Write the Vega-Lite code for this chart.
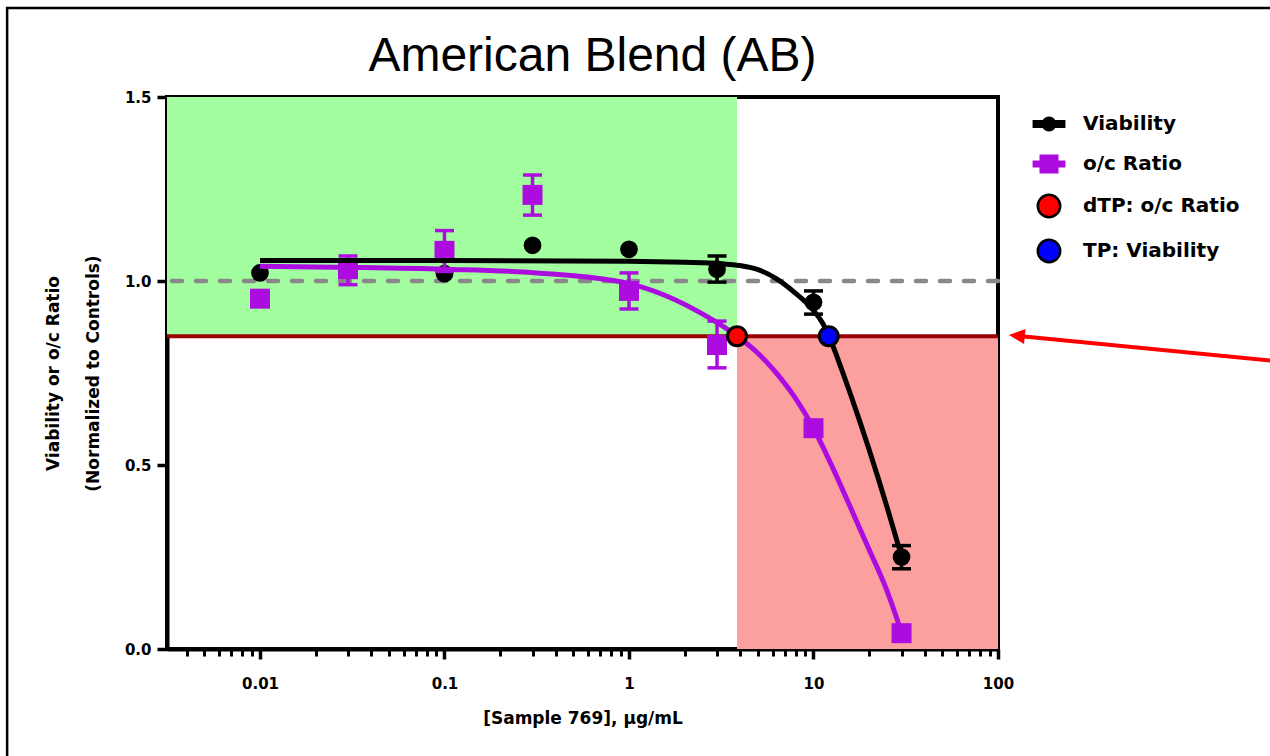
{
  "$schema": "https://vega.github.io/schema/vega-lite/v6.json",
  "width": 831,
  "height": 552,
  "autosize": {"type": "none"},
  "padding": {"left": 167, "top": 97, "right": 272, "bottom": 107},
  "background": "white",
  "title": {
    "text": "American Blend (AB)",
    "font": "Liberation Sans",
    "fontSize": 48,
    "fontWeight": "normal",
    "color": "#000000",
    "anchor": "middle",
    "frame": "group",
    "baseline": "bottom",
    "offset": -122,
    "dx": 10
  },
  "config": {
    "view": {"stroke": "#000000", "strokeWidth": 4},
    "axis": {
      "domainColor": "#000000",
      "domainWidth": 4,
      "tickColor": "#000000",
      "labelFont": "DejaVu Sans",
      "labelFontWeight": "bold",
      "labelColor": "#000000",
      "titleFont": "DejaVu Sans",
      "titleFontWeight": "bold",
      "titleColor": "#000000",
      "grid": false
    }
  },
  "datasets": {
    "regions": [
      {"x1": 0.003133, "x2": 3.85, "y1": 0.85, "y2": 1.5, "zone": "safe"},
      {"x1": 3.85, "x2": 100, "y1": 0, "y2": 0.85, "zone": "toxic"}
    ],
    "vcurve": [
      {"c": 0.01, "v": 1.056}, {"c": 0.1, "v": 1.056}, {"c": 1, "v": 1.054}, {"c": 2, "v": 1.051},
      {"c": 3.16, "v": 1.047}, {"c": 3.98, "v": 1.042}, {"c": 5.01, "v": 1.031}, {"c": 6.31, "v": 1.006},
      {"c": 7.94, "v": 0.968}, {"c": 10, "v": 0.92}, {"c": 11.22, "v": 0.885}, {"c": 12.59, "v": 0.83},
      {"c": 14.13, "v": 0.763}, {"c": 15.85, "v": 0.693}, {"c": 17.78, "v": 0.62}, {"c": 19.95, "v": 0.544},
      {"c": 22.39, "v": 0.465}, {"c": 25.12, "v": 0.383}, {"c": 28.18, "v": 0.298}, {"c": 30, "v": 0.252}
    ],
    "pcurve": [
      {"c": 0.01, "v": 1.04}, {"c": 0.0316, "v": 1.037}, {"c": 0.1, "v": 1.032}, {"c": 0.316, "v": 1.022},
      {"c": 1, "v": 0.993}, {"c": 1.585, "v": 0.96}, {"c": 2.512, "v": 0.91}, {"c": 3.162, "v": 0.88},
      {"c": 3.981, "v": 0.845}, {"c": 5.012, "v": 0.803}, {"c": 6.31, "v": 0.749}, {"c": 7.943, "v": 0.683},
      {"c": 10, "v": 0.6}, {"c": 12.59, "v": 0.497}, {"c": 15.85, "v": 0.385}, {"c": 19.95, "v": 0.272},
      {"c": 25.12, "v": 0.156}, {"c": 30, "v": 0.045}
    ],
    "viability": [
      {"c": 0.01, "v": 1.022}, {"c": 0.03, "v": 1.04}, {"c": 0.1, "v": 1.02}, {"c": 0.3, "v": 1.097},
      {"c": 1, "v": 1.086}, {"c": 3, "v": 1.032, "lo": 0.997, "hi": 1.068},
      {"c": 10, "v": 0.942, "lo": 0.91, "hi": 0.973}, {"c": 30, "v": 0.25, "lo": 0.218, "hi": 0.281}
    ],
    "ratio": [
      {"c": 0.01, "v": 0.952}, {"c": 0.03, "v": 1.032, "lo": 0.99, "hi": 1.068},
      {"c": 0.1, "v": 1.082, "lo": 1.026, "hi": 1.137}, {"c": 0.3, "v": 1.234, "lo": 1.179, "hi": 1.288},
      {"c": 1, "v": 0.973, "lo": 0.924, "hi": 1.022}, {"c": 3, "v": 0.826, "lo": 0.764, "hi": 0.891},
      {"c": 10, "v": 0.6}, {"c": 30, "v": 0.043}
    ],
    "dtp": [{"c": 3.85, "v": 0.85}],
    "tpv": [{"c": 12.1, "v": 0.85}],
    "legendrows": [
      {"c": 1, "v": -1, "s": "Viability"},
      {"c": 1, "v": -1, "s": "o/c Ratio"},
      {"c": 1, "v": -1, "s": "dTP: o/c Ratio"},
      {"c": 1, "v": -1, "s": "TP: Viability"}
    ],
    "frame": [{"x1": 0.000426, "x2": 5000, "y1": -0.4, "y2": 1.742}],
    "arrow": [{"x1": 3213, "y1": 0.7826, "x2": 130, "y2": 0.8505}],
    "arrowhead": [{"c": 126.5, "v": 0.8511}]
  },
  "encoding": {
    "x": {
      "field": "c",
      "type": "quantitative",
      "scale": {"type": "log", "domain": [0.003133, 100], "nice": false},
      "axis": {
        "title": "[Sample 769], µg/mL",
        "titleFontSize": 17,
        "titlePadding": 19,
        "labelFontSize": 15,
        "labelPadding": 17,
        "labelFlush": false,
        "labelOverlap": false,
        "values": [0.004, 0.005, 0.006, 0.007, 0.008, 0.009,
                   0.01, 0.02, 0.03, 0.04, 0.05, 0.06, 0.07, 0.08, 0.09,
                   0.1, 0.2, 0.3, 0.4, 0.5, 0.6, 0.7, 0.8, 0.9,
                   1, 2, 3, 4, 5, 6, 7, 8, 9,
                   10, 20, 30, 40, 50, 60, 70, 80, 90, 100],
        "labelExpr": "datum.value == 0.01 ? '0.01' : datum.value == 0.1 ? '0.1' : datum.value == 1 ? '1' : datum.value == 10 ? '10' : datum.value == 100 ? '100' : ''",
        "tickSize": {"condition": {"test": "datum.value == 0.01 || datum.value == 0.1 || datum.value == 1 || datum.value == 10 || datum.value == 100", "value": 10}, "value": 7},
        "tickWidth": {"condition": {"test": "datum.value == 0.01 || datum.value == 0.1 || datum.value == 1 || datum.value == 10 || datum.value == 100", "value": 3.5}, "value": 3}
      }
    },
    "y": {
      "field": "v",
      "type": "quantitative",
      "scale": {"domain": [0, 1.5], "nice": false, "zero": false},
      "axis": {
        "title": ["Viability or o/c Ratio", "(Normalized to Controls)"],
        "titleFontSize": 17,
        "titleLineHeight": 40,
        "titlePadding": 22,
        "labelFontSize": 15,
        "labelPadding": 6,
        "values": [0, 0.5, 1, 1.5],
        "format": ".1f",
        "tickSize": 10,
        "tickWidth": 3.5
      }
    }
  },
  "layer": [
    {
      "data": {"name": "regions"},
      "mark": {"type": "rect", "clip": true},
      "encoding": {
        "x": {"field": "x1", "type": "quantitative"},
        "x2": {"field": "x2"},
        "y": {"field": "y1", "type": "quantitative"},
        "y2": {"field": "y2"},
        "color": {"field": "zone", "type": "nominal", "scale": {"domain": ["safe", "toxic"], "range": ["#a3fea0", "#fc9f9f"]}, "legend": null}
      }
    },
    {
      "data": {"values": [{"v": 0.85}]},
      "mark": {"type": "rule", "color": "#990000", "strokeWidth": 4},
      "encoding": {"x": null, "y": {"field": "v", "type": "quantitative"}}
    },
    {
      "data": {"values": [{"v": 1.0}]},
      "mark": {"type": "rule", "color": "#888888", "strokeWidth": 4.5, "strokeDash": [10, 14], "strokeCap": "round"},
      "encoding": {"x": null, "y": {"field": "v", "type": "quantitative"}}
    },
    {
      "data": {"name": "viability"},
      "mark": {"type": "rule", "color": "#000000", "strokeWidth": 3.5},
      "encoding": {"y": {"field": "lo", "type": "quantitative"}, "y2": {"field": "hi"}}
    },
    {
      "data": {"name": "viability"},
      "mark": {"type": "tick", "orient": "horizontal", "color": "#000000", "opacity": 1, "size": 19, "thickness": 3.5},
      "encoding": {"y": {"field": "lo", "type": "quantitative"}}
    },
    {
      "data": {"name": "viability"},
      "mark": {"type": "tick", "orient": "horizontal", "color": "#000000", "opacity": 1, "size": 19, "thickness": 3.5},
      "encoding": {"y": {"field": "hi", "type": "quantitative"}}
    },
    {
      "data": {"name": "viability"},
      "mark": {"type": "point", "shape": "circle", "filled": true, "color": "#000000", "opacity": 1, "size": 314}
    },
    {
      "data": {"name": "pcurve"},
      "mark": {"type": "line", "color": "#ac0ce0", "strokeWidth": 5, "interpolate": "monotone"}
    },
    {
      "data": {"name": "ratio"},
      "mark": {"type": "rule", "color": "#ac0ce0", "strokeWidth": 3.5},
      "encoding": {"y": {"field": "lo", "type": "quantitative"}, "y2": {"field": "hi"}}
    },
    {
      "data": {"name": "ratio"},
      "mark": {"type": "tick", "orient": "horizontal", "color": "#ac0ce0", "opacity": 1, "size": 19, "thickness": 3.5},
      "encoding": {"y": {"field": "lo", "type": "quantitative"}}
    },
    {
      "data": {"name": "ratio"},
      "mark": {"type": "tick", "orient": "horizontal", "color": "#ac0ce0", "opacity": 1, "size": 19, "thickness": 3.5},
      "encoding": {"y": {"field": "hi", "type": "quantitative"}}
    },
    {
      "data": {"name": "ratio"},
      "mark": {"type": "point", "shape": "square", "filled": true, "color": "#ac0ce0", "opacity": 1, "size": 400}
    },
    {
      "data": {"name": "vcurve"},
      "mark": {"type": "line", "color": "#000000", "strokeWidth": 5, "interpolate": "monotone"}
    },
    {
      "data": {"name": "dtp"},
      "mark": {"type": "point", "shape": "circle", "filled": true, "fill": "#ff0000", "opacity": 1, "size": 360, "stroke": "#000000", "strokeWidth": 3}
    },
    {
      "data": {"name": "tpv"},
      "mark": {"type": "point", "shape": "circle", "filled": true, "fill": "#0000ff", "opacity": 1, "size": 360, "stroke": "#000000", "strokeWidth": 3}
    },
    {
      "data": {"name": "legendrows"},
      "mark": {"type": "point", "filled": true, "opacity": 1, "strokeWidth": 2.5, "clip": true},
      "encoding": {
        "shape": {
          "field": "s", "type": "nominal",
          "scale": {
            "domain": ["Viability", "o/c Ratio", "dTP: o/c Ratio", "TP: Viability"],
            "range": [
              "M-0.92,-0.17 L0.92,-0.17 L0.92,0.17 L-0.92,0.17 Z M0.38,0 A0.38,0.38 0 1,1 -0.38,0 A0.38,0.38 0 1,1 0.38,0 Z",
              "M-0.92,-0.14 L0.92,-0.14 L0.92,0.14 L-0.92,0.14 Z M-0.5,-0.5 L0.5,-0.5 L0.5,0.5 L-0.5,0.5 Z",
              "M0.68,0 A0.68,0.68 0 1,1 -0.68,0 A0.68,0.68 0 1,1 0.68,0 Z",
              "M0.68,0 A0.68,0.68 0 1,1 -0.68,0 A0.68,0.68 0 1,1 0.68,0 Z"
            ]
          },
          "legend": {"title": null, "orient": "none", "legendX": 864, "legendY": 9, "symbolSize": 1089, "symbolStrokeWidth": 2.5, "labelFont": "DejaVu Sans", "labelFontWeight": "bold", "labelFontSize": 20, "labelColor": "#000000", "labelOffset": 16, "rowPadding": 10, "symbolOpacity": 1}
        },
        "fill": {
          "field": "s", "type": "nominal",
          "scale": {"domain": ["Viability", "o/c Ratio", "dTP: o/c Ratio", "TP: Viability"], "range": ["#000000", "#ac0ce0", "#ff0000", "#0000ff"]},
          "legend": {"title": null, "orient": "none", "legendX": 864, "legendY": 9, "symbolSize": 1089, "symbolStrokeWidth": 2.5, "labelFont": "DejaVu Sans", "labelFontWeight": "bold", "labelFontSize": 20, "labelColor": "#000000", "labelOffset": 16, "rowPadding": 10, "symbolOpacity": 1}
        },
        "stroke": {
          "field": "s", "type": "nominal",
          "scale": {"domain": ["Viability", "o/c Ratio", "dTP: o/c Ratio", "TP: Viability"], "range": ["#000000", "#ac0ce0", "#000000", "#000000"]},
          "legend": {"title": null, "orient": "none", "legendX": 864, "legendY": 9, "symbolSize": 1089, "symbolStrokeWidth": 2.5, "labelFont": "DejaVu Sans", "labelFontWeight": "bold", "labelFontSize": 20, "labelColor": "#000000", "labelOffset": 16, "rowPadding": 10, "symbolOpacity": 1}
        }
      }
    },
    {
      "data": {"name": "arrow"},
      "mark": {"type": "rule", "color": "#ff0000", "strokeWidth": 4, "clip": false},
      "encoding": {
        "x": {"field": "x1", "type": "quantitative"},
        "x2": {"field": "x2"},
        "y": {"field": "y1", "type": "quantitative"},
        "y2": {"field": "y2"}
      }
    },
    {
      "data": {"name": "arrowhead"},
      "mark": {"type": "point", "shape": "M-1,0 L1,-0.94 L1,0.94 Z", "filled": true, "color": "#ff0000", "opacity": 1, "size": 256, "angle": 5.7, "clip": false}
    },
    {
      "data": {"name": "frame"},
      "mark": {"type": "rect", "filled": false, "stroke": "#000000", "strokeWidth": 2.5, "clip": false},
      "encoding": {
        "x": {"field": "x1", "type": "quantitative"},
        "x2": {"field": "x2"},
        "y": {"field": "y1", "type": "quantitative"},
        "y2": {"field": "y2"}
      }
    }
  ]
}
